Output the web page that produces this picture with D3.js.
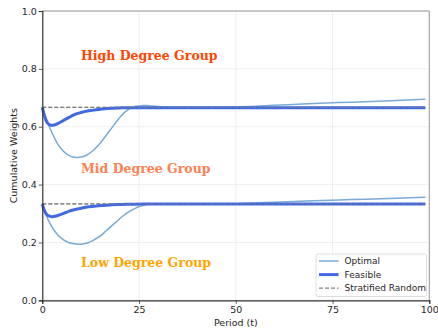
<!DOCTYPE html>
<html>
<head>
<meta charset="utf-8">
<script src="https://cdn.jsdelivr.net/npm/d3@7"></script>
<style>
  html, body { margin: 0; padding: 0; background: #fff; }
  svg { display: block; }
</style>
</head>
<body>
<svg id="chart" width="438" height="332"></svg>
<script>
// Sampled periods and cumulative weights per strategy
const optimalT     = [0, 1, 2, 3, 4, 5, 6, 7, 8, 9, 10, 11, 12, 13, 14, 15, 16, 17, 18, 19, 20, 21, 22, 23, 24, 25, 26, 27, 28, 30, 32, 35, 40, 45, 50, 55, 60, 70, 80, 90, 99];
const optimalHigh  = [0.667, 0.63, 0.595, 0.565, 0.54, 0.522, 0.509, 0.500, 0.495, 0.494, 0.495, 0.499, 0.506, 0.516, 0.529, 0.544, 0.561, 0.579, 0.597, 0.615, 0.632, 0.646, 0.657, 0.665, 0.670, 0.672, 0.673, 0.673, 0.672, 0.670, 0.668, 0.667, 0.667, 0.667, 0.668, 0.671, 0.674, 0.680, 0.685, 0.690, 0.695];
const optimalLow   = [0.333, 0.295, 0.265, 0.243, 0.226, 0.214, 0.205, 0.199, 0.196, 0.194, 0.194, 0.196, 0.200, 0.206, 0.214, 0.223, 0.234, 0.246, 0.258, 0.270, 0.282, 0.293, 0.303, 0.311, 0.318, 0.324, 0.328, 0.331, 0.333, 0.334, 0.334, 0.333, 0.333, 0.333, 0.334, 0.336, 0.339, 0.344, 0.348, 0.352, 0.356];

const feasibleT    = [0, 0.5, 1, 1.5, 2, 2.5, 3, 4, 5, 6, 7, 8, 10, 12, 14, 16, 18, 20, 23, 26, 30, 40, 60, 80, 99];
const feasibleHigh = [0.667, 0.640, 0.620, 0.610, 0.606, 0.605, 0.606, 0.611, 0.618, 0.626, 0.633, 0.640, 0.649, 0.655, 0.659, 0.662, 0.664, 0.665, 0.666, 0.666, 0.666, 0.666, 0.666, 0.666, 0.666];
const feasibleLow  = [0.333, 0.312, 0.299, 0.293, 0.290, 0.289, 0.290, 0.293, 0.298, 0.303, 0.308, 0.312, 0.318, 0.323, 0.326, 0.328, 0.330, 0.331, 0.332, 0.333, 0.333, 0.333, 0.333, 0.333, 0.333];

const stratifiedLevels = [0.667, 0.333];

const xTicks = [0, 25, 50, 75, 100];
const yTicks = [0.0, 0.2, 0.4, 0.6, 0.8, 1.0];

const groupLabels = [
  { text: "High Degree Group", t: 10, v: 0.846, color: "#ff4500" },
  { text: "Mid Degree Group",  t: 10, v: 0.456, color: "#ff7f50" },
  { text: "Low Degree Group",  t: 10, v: 0.131, color: "#ffa500" }
];

const legendItems = [
  { label: "Optimal",           color: "#7aaad6", width: 1.5, dash: null },
  { label: "Feasible",          color: "#4169e1", width: 3,   dash: null },
  { label: "Stratified Random", color: "#808080", width: 1.2, dash: "4,2" }
];

const svg = d3.select("#chart");
const plotL = 42.3, plotR = 429.3, plotT = 11, plotB = 300.3;

const x = d3.scaleLinear().domain([0, 100]).range([plotL, plotR]);
const y = d3.scaleLinear().domain([0, 1]).range([plotB, plotT]);

// Light grid
const grid = svg.append("g");
grid.selectAll("line.gx").data(xTicks).join("line")
  .attr("x1", d => x(d)).attr("x2", d => x(d)).attr("y1", plotT).attr("y2", plotB)
  .attr("stroke", "#ebebeb").attr("stroke-width", 0.8);
grid.selectAll("line.gy").data(yTicks).join("line")
  .attr("x1", plotL).attr("x2", plotR).attr("y1", d => y(d)).attr("y2", d => y(d))
  .attr("stroke", "#ebebeb").attr("stroke-width", 0.8);

// Top/right frame
svg.append("line").attr("x1", plotL).attr("x2", plotR).attr("y1", plotT).attr("y2", plotT)
  .attr("stroke", "#9a9a9a").attr("stroke-width", 1);
svg.append("line").attr("x1", plotR).attr("x2", plotR).attr("y1", plotT).attr("y2", plotB)
  .attr("stroke", "#9a9a9a").attr("stroke-width", 1);

const lineOf = (ts) => d3.line()
  .x((d, i) => x(ts[i]))
  .y(d => y(d))
  .curve(d3.curveMonotoneX);

const plot = svg.append("g");

// Stratified random reference levels
plot.selectAll("line.strat").data(stratifiedLevels).join("line")
  .attr("x1", x(0)).attr("x2", x(99)).attr("y1", d => y(d)).attr("y2", d => y(d))
  .attr("stroke", "#808080").attr("stroke-width", 1.2).attr("stroke-dasharray", "4,2");

// Optimal
[optimalHigh, optimalLow].forEach(s => {
  plot.append("path").datum(s).attr("d", lineOf(optimalT))
    .attr("fill", "none").attr("stroke", "#7aaad6").attr("stroke-width", 1.5);
});

// Feasible
[feasibleHigh, feasibleLow].forEach(s => {
  plot.append("path").datum(s).attr("d", lineOf(feasibleT))
    .attr("fill", "none").attr("stroke", "#4169e1").attr("stroke-width", 3)
    .attr("stroke-linejoin", "round");
});

// Dashed levels drawn again over the feasible lines
plot.selectAll("line.strat2").data(stratifiedLevels).join("line")
  .attr("x1", x(0)).attr("x2", x(99)).attr("y1", d => y(d)).attr("y2", d => y(d))
  .attr("stroke", "#808080").attr("stroke-opacity", 0.6).attr("stroke-width", 1.2).attr("stroke-dasharray", "4,2");

// Group labels
svg.selectAll("text.group").data(groupLabels).join("text")
  .attr("x", d => x(d.t)).attr("y", d => y(d.v))
  .attr("dominant-baseline", "central")
  .attr("font-family", "DejaVu Serif")
  .attr("font-weight", "bold")
  .attr("font-size", 12.5)
  .attr("fill", d => d.color)
  .text(d => d.text);

// Axes
const xAxis = svg.append("g").attr("transform", `translate(0,${plotB})`)
  .call(d3.axisBottom(x).tickValues(xTicks).tickSize(3.5).tickPadding(2).tickFormat(d3.format("d")));
const yAxis = svg.append("g").attr("transform", `translate(${plotL},0)`)
  .call(d3.axisLeft(y).tickValues(yTicks).tickSize(3.5).tickPadding(2).tickFormat(d3.format(".1f")));
[xAxis, yAxis].forEach(a => {
  a.select(".domain").attr("stroke", "#333").attr("stroke-width", 1.2);
  a.selectAll(".tick line").attr("stroke", "#333").attr("stroke-width", 0.8);
  a.selectAll(".tick text").attr("fill", "#262626")
    .attr("font-family", "DejaVu Sans").attr("font-size", 9.5);
});

// Axis titles
svg.append("text").attr("x", (plotL + plotR) / 2).attr("y", 326)
  .attr("text-anchor", "middle").attr("font-family", "DejaVu Sans").attr("font-size", 9.5)
  .attr("fill", "#262626").text("Period (t)");
svg.append("text").attr("transform", `translate(17,${(plotT + plotB) / 2}) rotate(-90)`)
  .attr("text-anchor", "middle").attr("font-family", "DejaVu Sans").attr("font-size", 9.5)
  .attr("fill", "#262626").text("Cumulative Weights");

// Legend
const lg = svg.append("g").attr("transform", "translate(316,254)");
lg.append("rect").attr("width", 110.5).attr("height", 42.5).attr("rx", 2)
  .attr("fill", "#fff").attr("fill-opacity", 0.85).attr("stroke", "#d6d6d6").attr("stroke-width", 0.8);
const items = lg.selectAll("g.item").data(legendItems).join("g")
  .attr("transform", (d, i) => `translate(0,${7 + i * 13.6})`);
items.append("line").attr("x1", 3).attr("x2", 22.5).attr("y1", 0).attr("y2", 0)
  .attr("stroke", d => d.color).attr("stroke-width", d => d.width)
  .attr("stroke-dasharray", d => d.dash);
items.append("text").attr("x", 28.5).attr("y", 0).attr("dominant-baseline", "central")
  .attr("font-family", "DejaVu Sans").attr("font-size", 9).attr("fill", "#262626")
  .text(d => d.label);
</script>
</body>
</html>
